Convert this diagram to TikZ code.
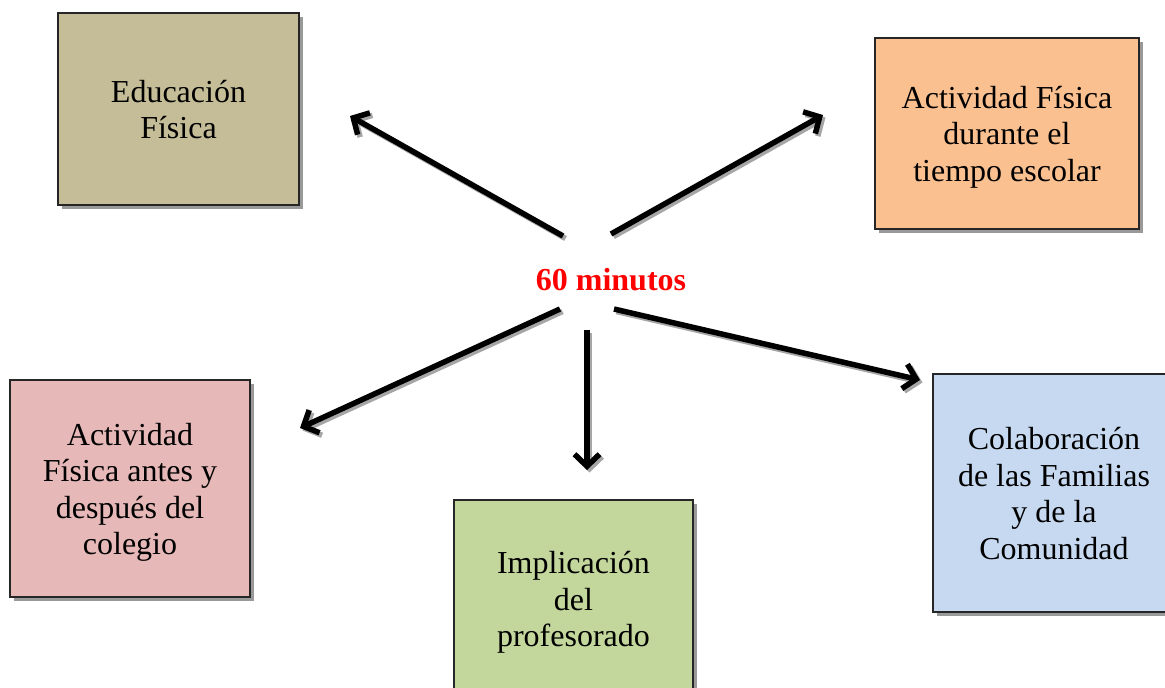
\documentclass[tikz,border=0pt]{standalone}
\usepackage{fontspec}
\setmainfont{Liberation Serif}
\usetikzlibrary{arrows.meta,shadows}
\definecolor{cedu}{HTML}{C4BD97}
\definecolor{cdur}{HTML}{FAC090}
\definecolor{cant}{HTML}{E6B9B8}
\definecolor{cimp}{HTML}{C3D69B}
\definecolor{ccol}{HTML}{C6D9F1}
\definecolor{cred}{HTML}{FF0000}
\newcommand\wstrut{\rule[-7pt]{0pt}{36.5pt}}
\begin{document}
\begin{tikzpicture}[x=1pt,y=-1pt,
  box/.style={draw=black!85, line width=1.6pt, align=center,
    font=\fontsize{32}{36.5}\selectfont, inner sep=0pt,
    drop shadow={shadow xshift=3.5pt, shadow yshift=-3.5pt, fill=black!40, opacity=1}},
  arr/.style={line width=5.5pt, -{Straight Barb[length=12pt,width=25pt]}},
  arrsh/.style={arr, draw=black!35, transform canvas={shift={(2.5pt,-2.5pt)}}},
  center/.style={font=\fontsize{32}{36.5}\selectfont\bfseries, text=cred, inner sep=0pt}
]
\useasboundingbox (0,0) rectangle (1165,688);
\clip (0,0) rectangle (1165,688);

\node[box, fill=cedu, minimum width=241pt, minimum height=192pt] (edu) at (178.5,109) {\wstrut Educación\\Física\wstrut};
\node[box, fill=cdur, minimum width=264pt, minimum height=191pt] (dur) at (1007,133.5) {\wstrut Actividad Física\\durante el\\tiempo escolar\wstrut};
\node[box, fill=cant, minimum width=240pt, minimum height=217pt] (ant) at (130,488.5) {\wstrut Actividad\\Física antes y\\después del\\colegio\wstrut};
\node[box, fill=cimp, minimum width=239pt, minimum height=198pt] (imp) at (573.5,599) {\wstrut Implicación\\del\\profesorado\wstrut};
\node[box, fill=ccol, minimum width=242pt, minimum height=238pt] (col) at (1054,493) {\wstrut Colaboración\\de las Familias\\y de la\\Comunidad\wstrut};

\node[center] (c) at (611,280) {60 minutos};

\coordinate (s1) at (563,236); \coordinate (e1) at (350,116);
\coordinate (s2) at (611,234); \coordinate (e2) at (823,115);
\coordinate (s3) at (560,309); \coordinate (e3) at (300,428);
\coordinate (s4) at (587,330); \coordinate (e4) at (587,470);
\coordinate (s5) at (614,309); \coordinate (e5) at (920,380);

\foreach \i in {1,...,5} {\draw[arrsh] (s\i) -- (e\i);}
\foreach \i in {1,...,5} {\draw[arr] (s\i) -- (e\i);}
\end{tikzpicture}
\end{document}
